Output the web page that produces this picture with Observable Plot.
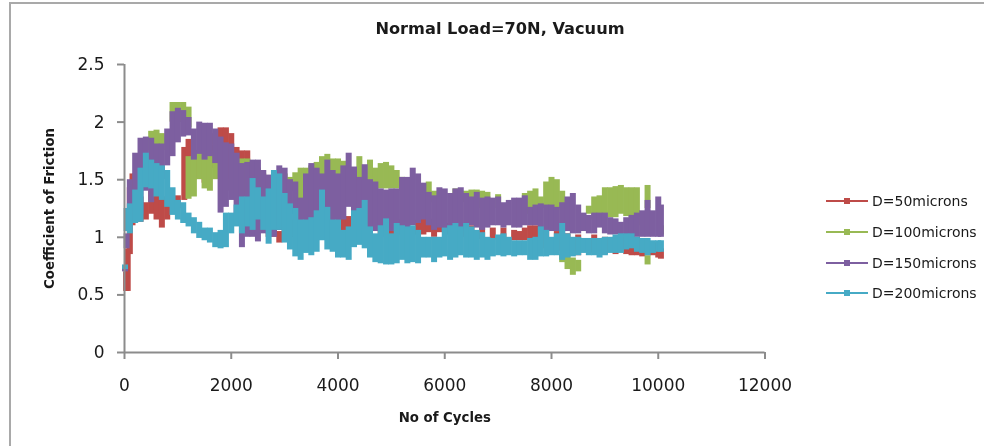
<!DOCTYPE html>
<html><head><meta charset="utf-8">
<script src="https://cdn.jsdelivr.net/npm/d3@7"></script>
<script src="https://cdn.jsdelivr.net/npm/@observablehq/plot@0.6"></script>
<style>
html,body{margin:0;padding:0;background:#fff;overflow:hidden}
#page{position:relative;width:984px;height:446px;overflow:hidden;filter:blur(0.5px);font-family:"DejaVu Sans",sans-serif;color:#1a1a1a}
#frame{position:absolute;left:9px;top:2px;width:990px;height:470px;border:2px solid #a9a9a9;box-sizing:border-box}
#title{position:absolute;left:0;top:19px;width:1000px;text-align:center;font-weight:bold;font-size:16.2px}
#legend{position:absolute;left:826px;top:186px}
.item{display:flex;align-items:center;height:30.7px;font-size:14px;white-space:nowrap}
.swatch{position:relative;display:inline-block;width:42px;height:2px;margin-right:4px}
.swatch i{position:absolute;left:18px;top:-2px;width:6px;height:6px;display:block}
svg [aria-label="x-axis label"],svg [aria-label="y-axis label"]{font-size:13.3px;font-weight:bold}
svg{position:absolute;left:0;top:0}
</style></head><body>
<div id="page"><div id="frame"></div><div id="title"></div><div id="legend"></div></div>
<script>
const titleText = "Normal Load=70N, Vacuum";
const xLabel = "No of Cycles";
const yLabel = "Coefficient of Friction";
const xTicks = [0,2000,4000,6000,8000,10000,12000];
const yTicks = [0,0.5,1,1.5,2,2.5];
const seriesNames = ["D=50microns","D=100microns","D=150microns","D=200microns"];
const seriesColors = ["#BE4B48","#98B954","#7D5FA0","#46AAC5"];

// each row: cycles, lowest reading, highest reading
const d50 = [[30,0.53,0.7],[60,0.53,0.9],[100,0.85,1.43],[150,1.1,1.55],[200,1.15,1.55],[300,1.13,1.35],[400,1.15,1.3],[500,1.2,1.4],[600,1.15,1.45],[700,1.08,1.35],[800,1.15,1.35],[900,1.2,1.3],[1000,1.25,1.36],[1120,1.32,1.78],[1200,1.42,1.85],[1300,1.5,1.75],[1500,1.47,1.57],[1600,1.6,1.8],[1700,1.6,1.9],[1800,1.6,1.95],[1900,1.5,1.95],[2000,1.4,1.9],[2100,1.35,1.78],[2200,1.3,1.75],[2300,1.3,1.75],[2400,1.2,1.6],[2500,1.1,1.45],[2600,1.05,1.35],[2700,1.0,1.2],[2800,1.0,1.1],[2900,0.95,1.05],[3000,0.98,1.15],[3200,1.0,1.15],[3400,1.0,1.12],[3600,0.98,1.1],[3800,1.02,1.16],[4000,1.0,1.14],[4100,1.0,1.18],[4200,1.02,1.18],[4400,1.0,1.12],[4600,1.0,1.12],[4800,1.0,1.1],[5000,1.02,1.17],[5100,1.02,1.15],[5300,1.0,1.14],[5500,1.02,1.15],[5600,1.02,1.16],[5700,1.04,1.16],[5800,1.0,1.12],[5900,1.04,1.14],[6100,1.02,1.12],[6300,1.0,1.12],[6500,1.0,1.1],[6700,0.98,1.08],[6900,0.98,1.08],[7100,0.98,1.08],[7300,0.97,1.06],[7400,0.97,1.05],[7500,0.97,1.08],[7600,0.98,1.1],[7700,0.98,1.1],[7900,0.9,1.05],[8100,0.88,1.05],[8300,0.86,1.03],[8500,0.84,1.02],[8800,0.86,1.02],[9000,0.85,1.0],[9200,0.85,1.0],[9400,0.85,1.0],[9500,0.84,1.0],[9600,0.84,1.0],[9700,0.83,0.98],[9800,0.84,0.95],[9900,0.84,0.95],[10000,0.82,0.95],[10050,0.81,0.9]];

const d100 = [[500,1.75,1.92],[600,1.72,1.93],[700,1.75,1.9],[800,1.8,1.87],[900,2.0,2.17],[1000,2.0,2.17],[1100,2.0,2.17],[1200,1.95,2.13],[1200,1.33,1.7],[1300,1.35,1.7],[1400,1.5,1.75],[1500,1.42,1.75],[1600,1.4,1.75],[1700,1.5,1.65],[2100,1.45,1.62],[2200,1.4,1.68],[2300,1.4,1.68],[2400,1.4,1.55],[2500,1.4,1.6],[2600,1.4,1.55],[2700,1.4,1.5],[2900,1.4,1.52],[3000,1.4,1.55],[3100,1.4,1.52],[3200,1.4,1.56],[3300,1.3,1.6],[3400,1.4,1.6],[3500,1.4,1.62],[3600,1.4,1.65],[3700,1.4,1.7],[3800,1.4,1.72],[3900,1.4,1.68],[4000,1.4,1.68],[4100,1.4,1.66],[4300,1.4,1.6],[4400,1.4,1.7],[4500,1.4,1.6],[4600,1.4,1.67],[4700,1.42,1.6],[4800,1.42,1.64],[4900,1.42,1.65],[5000,1.42,1.62],[5100,1.42,1.58],[5200,1.4,1.52],[5700,1.3,1.48],[5800,1.3,1.4],[6200,1.3,1.42],[6400,1.3,1.4],[6500,1.25,1.41],[6600,1.25,1.41],[6700,1.25,1.4],[6800,1.25,1.39],[7000,1.25,1.37],[7500,1.2,1.38],[7600,1.2,1.4],[7700,1.2,1.42],[7800,1.25,1.35],[7900,1.25,1.48],[8000,1.25,1.52],[8100,1.25,1.5],[8200,1.25,1.4],[8200,0.78,0.85],[8300,0.72,0.85],[8400,0.67,0.82],[8500,0.7,0.8],[8700,1.2,1.27],[8800,1.15,1.35],[8900,1.15,1.36],[9000,1.17,1.43],[9100,1.17,1.43],[9200,1.17,1.44],[9300,1.2,1.45],[9400,1.18,1.43],[9500,1.17,1.43],[9600,1.17,1.43],[9700,1.1,1.2],[9800,1.25,1.45],[9800,0.76,0.84],[10050,1.02,1.1]];

const d150 = [[10,0.7,0.73],[40,0.9,1.03],[100,1.1,1.5],[200,1.2,1.73],[300,1.2,1.86],[400,1.4,1.87],[500,1.3,1.86],[600,1.45,1.81],[700,1.5,1.81],[800,1.62,1.94],[900,1.7,2.09],[1000,1.82,2.12],[1100,1.87,2.1],[1200,1.88,2.04],[1300,1.67,1.94],[1400,1.72,2.0],[1500,1.67,1.99],[1600,1.7,1.99],[1700,1.64,1.94],[1800,1.21,1.87],[1900,1.26,1.82],[2000,1.32,1.81],[2100,1.2,1.73],[2200,0.91,1.64],[2300,1.0,1.65],[2400,1.0,1.67],[2500,0.96,1.67],[2600,1.03,1.58],[2700,1.03,1.54],[2800,1.0,1.49],[2900,1.06,1.62],[3000,1.2,1.6],[3100,1.2,1.5],[3200,1.2,1.48],[3300,1.1,1.34],[3400,1.05,1.55],[3500,1.05,1.64],[3600,1.05,1.6],[3700,1.1,1.55],[3800,1.1,1.67],[3900,1.05,1.58],[4000,1.05,1.55],[4100,1.15,1.62],[4200,1.26,1.73],[4300,1.1,1.61],[4400,1.1,1.52],[4500,1.1,1.63],[4600,1.05,1.5],[4700,1.05,1.48],[4800,1.05,1.42],[4900,1.05,1.41],[5000,1.05,1.42],[5100,1.05,1.42],[5200,1.05,1.52],[5300,1.08,1.52],[5400,1.1,1.6],[5500,1.12,1.55],[5600,1.15,1.47],[5700,1.1,1.39],[5800,1.06,1.36],[5900,1.08,1.43],[6000,1.05,1.42],[6100,1.05,1.38],[6200,1.05,1.42],[6300,1.05,1.43],[6400,1.08,1.38],[6500,1.1,1.35],[6600,1.08,1.39],[6700,1.06,1.34],[6800,1.08,1.35],[6900,1.1,1.34],[7000,1.1,1.35],[7100,1.08,1.3],[7200,1.1,1.32],[7300,1.08,1.34],[7400,1.08,1.34],[7500,1.1,1.36],[7600,1.1,1.26],[7700,1.1,1.28],[7800,1.05,1.29],[7900,1.05,1.28],[8000,1.05,1.28],[8100,1.05,1.26],[8200,1.03,1.3],[8300,1.05,1.35],[8400,1.03,1.38],[8500,1.03,1.28],[8600,1.05,1.21],[8700,1.03,1.19],[8800,1.03,1.21],[8900,1.08,1.21],[9000,1.03,1.21],[9100,1.02,1.17],[9200,1.02,1.16],[9300,1.02,1.13],[9400,1.0,1.17],[9500,1.0,1.19],[9600,1.0,1.21],[9700,1.0,1.23],[9800,1.0,1.32],[9900,1.0,1.23],[10000,1.0,1.35],[10050,1.0,1.28]];

const d200 = [[10,0.72,0.76],[40,1.05,1.25],[100,1.03,1.29],[200,1.12,1.41],[300,1.13,1.6],[400,1.43,1.73],[500,1.42,1.67],[600,1.35,1.64],[700,1.32,1.62],[800,1.26,1.58],[900,1.19,1.43],[1000,1.15,1.32],[1100,1.12,1.3],[1200,1.09,1.21],[1300,1.03,1.17],[1400,0.99,1.13],[1500,0.97,1.08],[1600,0.95,1.08],[1700,0.91,1.04],[1800,0.9,1.06],[1900,0.91,1.21],[2000,1.03,1.21],[2100,1.09,1.28],[2200,1.03,1.35],[2300,1.09,1.35],[2400,1.06,1.51],[2500,1.15,1.43],[2600,1.06,1.35],[2700,0.94,1.42],[2800,1.06,1.58],[2900,1.06,1.55],[3000,0.95,1.38],[3100,0.89,1.29],[3200,0.83,1.25],[3300,0.8,1.15],[3400,0.86,1.15],[3500,0.84,1.17],[3600,0.87,1.23],[3700,0.97,1.41],[3800,0.89,1.26],[3900,0.87,1.15],[4000,0.82,1.15],[4100,0.82,1.06],[4200,0.8,1.09],[4300,0.91,1.23],[4400,0.93,1.25],[4500,0.9,1.32],[4600,0.82,1.09],[4700,0.78,1.03],[4800,0.77,1.1],[4900,0.76,1.16],[5000,0.76,1.03],[5100,0.77,1.12],[5200,0.8,1.1],[5300,0.77,1.09],[5400,0.78,1.1],[5500,0.77,1.06],[5600,0.82,1.0],[5700,0.82,1.0],[5800,0.78,1.0],[5900,0.82,1.0],[6000,0.83,1.08],[6100,0.8,1.1],[6200,0.82,1.12],[6300,0.84,1.09],[6400,0.82,1.12],[6500,0.82,1.09],[6600,0.8,1.06],[6700,0.82,1.04],[6800,0.8,1.0],[6900,0.83,0.99],[7000,0.84,1.02],[7100,0.83,1.03],[7200,0.84,1.0],[7300,0.83,0.97],[7400,0.84,0.97],[7500,0.84,0.97],[7600,0.8,0.99],[7700,0.8,1.0],[7800,0.83,1.09],[7900,0.83,1.06],[8000,0.84,1.0],[8100,0.84,1.03],[8200,0.8,1.12],[8300,0.82,1.03],[8400,0.83,1.0],[8500,0.84,1.0],[8600,0.86,0.99],[8700,0.84,0.99],[8800,0.84,0.99],[8900,0.82,0.99],[9000,0.84,1.0],[9100,0.86,1.0],[9200,0.86,1.02],[9300,0.86,1.03],[9400,0.89,1.03],[9500,0.9,1.03],[9600,0.87,1.0],[9700,0.86,0.99],[9800,0.84,0.99],[9900,0.86,0.97],[10000,0.87,0.97],[10050,0.87,0.97]];

const seriesRows = [d50,d100,d150,d200];
const axisGray = "#8c8c8c";

const readings = seriesRows.map((rows,i)=>Plot.ruleX(rows,{x:d=>d[0],y1:d=>d[1],y2:d=>d[2],stroke:seriesColors[i],strokeWidth:6}));

const chart = Plot.plot({
  width:984,height:446,
  marginLeft:124,marginRight:219.5,marginTop:64,marginBottom:94,
  style:{fontFamily:'"DejaVu Sans",sans-serif',fontSize:"17px",color:"#1a1a1a",background:"transparent"},
  x:{domain:[0,12000]},
  y:{domain:[0,2.5]},
  marks:[
    ...readings,
    Plot.ruleX([0],{stroke:axisGray,strokeWidth:2}),
    Plot.ruleY([0],{stroke:axisGray,strokeWidth:2}),
    Plot.axisX({ticks:xTicks,tickFormat:d=>String(d),tickSize:7,tickPadding:19,stroke:axisGray,strokeWidth:2,label:xLabel,labelAnchor:"center",labelArrow:"none",labelOffset:69}),
    Plot.axisY({ticks:yTicks,tickFormat:d=>String(d),tickSize:7,tickPadding:13,stroke:axisGray,strokeWidth:2,label:yLabel,labelAnchor:"center",labelArrow:"none",labelOffset:80})
  ]
});
document.getElementById("page").appendChild(chart);
document.getElementById("title").textContent = titleText;
const legend = d3.select("#legend");
seriesNames.forEach((n,i)=>{
  const it = legend.append("div").attr("class","item");
  const s = it.append("span").attr("class","swatch").style("background",seriesColors[i]);
  s.append("i").style("background",seriesColors[i]);
  it.append("span").text(n);
});
</script>
</body></html>
